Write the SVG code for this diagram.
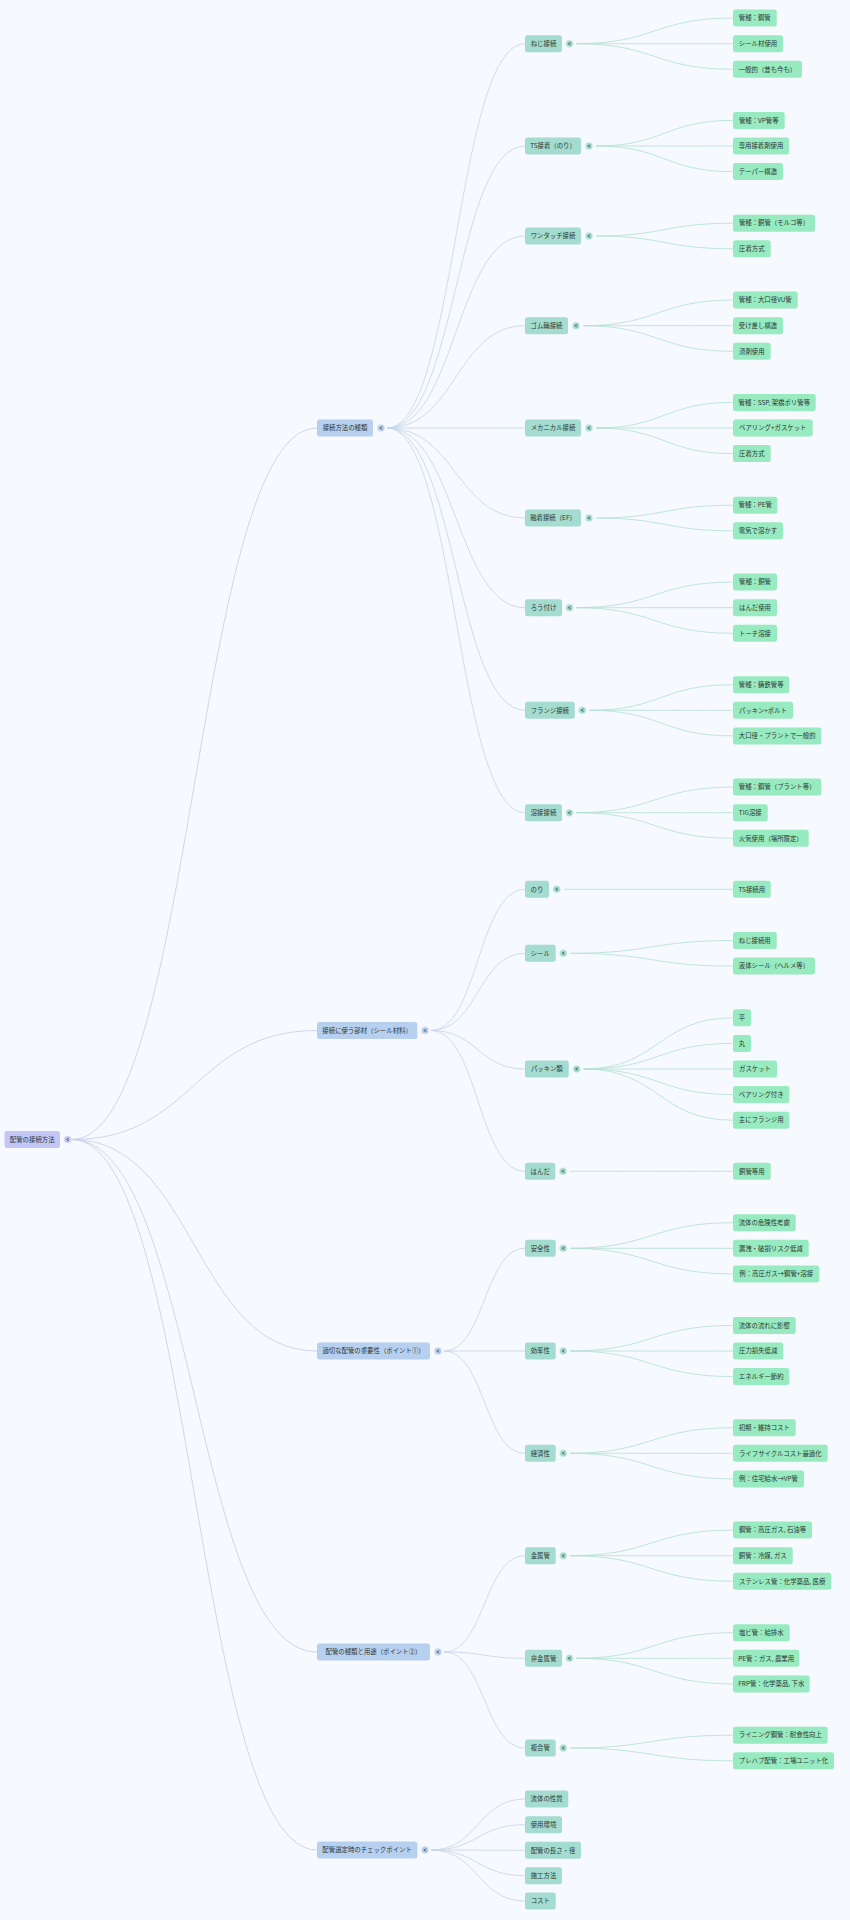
<svg xmlns="http://www.w3.org/2000/svg" xmlns:xlink="http://www.w3.org/1999/xlink" width="850" height="1920" viewBox="0 0 850 1920">
<style>
text{font-family:"Noto Sans CJK JP","Noto Sans",sans-serif;font-size:6.4px;fill:#2b3633;text-anchor:middle}
.n0{fill:#c3c6f6}.n1{fill:#b8d0ef}.n2{fill:#a4dccf}.n3{fill:#98eac0}
rect{rx:2.5;ry:2.5}
.c0{fill:#c3c6f6;stroke:#eef0fb;stroke-width:0.6}
.c1{fill:#b8d0ef;stroke:#eef3fb;stroke-width:0.6}
.c2{fill:#a4dccf;stroke:#eef8f5;stroke-width:0.6}
path{fill:none;stroke-width:0.8}
.l0 path{stroke:#c8cce8}.l1 path{stroke:#c5d4e8}.l2 path{stroke:#b3e0d2}
</style>
<defs>
<path id="chev" d="M1.3,-1.3 L-1.2,0 L1.3,1.3" style="stroke:#3a4644;stroke-width:0.7;fill:none"/>
</defs>
<rect x="0" y="0" width="850" height="1920" style="fill:#f6f9fd;rx:0;ry:0"/>
<g id="connectors">
<g class="l0">
<path d="M72,1139.5 C194.5,1139.5 194.5,428 317,428"/>
<path d="M72,1139.5 C194.5,1139.5 194.5,1030.5 317,1030.5"/>
<path d="M72,1139.5 C194.5,1139.5 194.5,1351 317,1351"/>
<path d="M72,1139.5 C194.5,1139.5 194.5,1652 317,1652"/>
<path d="M72,1139.5 C194.5,1139.5 194.5,1850 317,1850"/>
</g>
<g class="l1">
<path d="M387,428 C456,428 456,43.7 525,43.7"/>
<path d="M387,428 C456,428 456,146 525,146"/>
<path d="M387,428 C456,428 456,236 525,236"/>
<path d="M387,428 C456,428 456,325.7 525,325.7"/>
<path d="M387,428 C456,428 456,428 525,428"/>
<path d="M387,428 C456,428 456,518 525,518"/>
<path d="M387,428 C456,428 456,607.7 525,607.7"/>
<path d="M387,428 C456,428 456,710.3 525,710.3"/>
<path d="M387,428 C456,428 456,812.7 525,812.7"/>
<path d="M431,1030.5 C478,1030.5 478,889.3 525,889.3"/>
<path d="M431,1030.5 C478,1030.5 478,953.3 525,953.3"/>
<path d="M431,1030.5 C478,1030.5 478,1069 525,1069"/>
<path d="M431,1030.5 C478,1030.5 478,1171.3 525,1171.3"/>
<path d="M444,1351 C484.5,1351 484.5,1248.3 525,1248.3"/>
<path d="M444,1351 C484.5,1351 484.5,1351 525,1351"/>
<path d="M444,1351 C484.5,1351 484.5,1453.3 525,1453.3"/>
<path d="M444,1652 C484.5,1652 484.5,1555.7 525,1555.7"/>
<path d="M444,1652 C484.5,1652 484.5,1658.3 525,1658.3"/>
<path d="M444,1652 C484.5,1652 484.5,1748 525,1748"/>
<path d="M431,1850 C478,1850 478,1799 525,1799"/>
<path d="M431,1850 C478,1850 478,1824.7 525,1824.7"/>
<path d="M431,1850 C478,1850 478,1850.3 525,1850.3"/>
<path d="M431,1850 C478,1850 478,1875.7 525,1875.7"/>
<path d="M431,1850 C478,1850 478,1901 525,1901"/>
</g>
<g class="l2">
<path d="M576.5,43.7 C654.8,43.7 654.8,18 733,18"/>
<path d="M576.5,43.7 C654.8,43.7 654.8,43.7 733,43.7"/>
<path d="M576.5,43.7 C654.8,43.7 654.8,69.3 733,69.3"/>
<path d="M596,146 C664.5,146 664.5,120.4 733,120.4"/>
<path d="M596,146 C664.5,146 664.5,146 733,146"/>
<path d="M596,146 C664.5,146 664.5,171.6 733,171.6"/>
<path d="M596,236 C664.5,236 664.5,223.2 733,223.2"/>
<path d="M596,236 C664.5,236 664.5,248.8 733,248.8"/>
<path d="M583,325.7 C658,325.7 658,300.1 733,300.1"/>
<path d="M583,325.7 C658,325.7 658,325.7 733,325.7"/>
<path d="M583,325.7 C658,325.7 658,351.3 733,351.3"/>
<path d="M596,428 C664.5,428 664.5,402.4 733,402.4"/>
<path d="M596,428 C664.5,428 664.5,428 733,428"/>
<path d="M596,428 C664.5,428 664.5,453.6 733,453.6"/>
<path d="M596,518 C664.5,518 664.5,505.2 733,505.2"/>
<path d="M596,518 C664.5,518 664.5,530.8 733,530.8"/>
<path d="M576.5,607.7 C654.8,607.7 654.8,582.1 733,582.1"/>
<path d="M576.5,607.7 C654.8,607.7 654.8,607.7 733,607.7"/>
<path d="M576.5,607.7 C654.8,607.7 654.8,633.3 733,633.3"/>
<path d="M589.3,710.3 C661.2,710.3 661.2,684.7 733,684.7"/>
<path d="M589.3,710.3 C661.2,710.3 661.2,710.3 733,710.3"/>
<path d="M589.3,710.3 C661.2,710.3 661.2,735.9 733,735.9"/>
<path d="M576.5,812.7 C654.8,812.7 654.8,787.1 733,787.1"/>
<path d="M576.5,812.7 C654.8,812.7 654.8,812.7 733,812.7"/>
<path d="M576.5,812.7 C654.8,812.7 654.8,838.3 733,838.3"/>
<path d="M563.7,889.3 C648.4,889.3 648.4,889.3 733,889.3"/>
<path d="M570.3,953.3 C651.7,953.3 651.7,940.5 733,940.5"/>
<path d="M570.3,953.3 C651.7,953.3 651.7,966.1 733,966.1"/>
<path d="M583.7,1069 C658.4,1069 658.4,1017.8 733,1017.8"/>
<path d="M583.7,1069 C658.4,1069 658.4,1043.4 733,1043.4"/>
<path d="M583.7,1069 C658.4,1069 658.4,1069 733,1069"/>
<path d="M583.7,1069 C658.4,1069 658.4,1094.6 733,1094.6"/>
<path d="M583.7,1069 C658.4,1069 658.4,1120.2 733,1120.2"/>
<path d="M570,1171.3 C651.5,1171.3 651.5,1171.3 733,1171.3"/>
<path d="M570.3,1248.3 C651.7,1248.3 651.7,1222.7 733,1222.7"/>
<path d="M570.3,1248.3 C651.7,1248.3 651.7,1248.3 733,1248.3"/>
<path d="M570.3,1248.3 C651.7,1248.3 651.7,1273.9 733,1273.9"/>
<path d="M570.3,1351 C651.7,1351 651.7,1325.4 733,1325.4"/>
<path d="M570.3,1351 C651.7,1351 651.7,1351 733,1351"/>
<path d="M570.3,1351 C651.7,1351 651.7,1376.6 733,1376.6"/>
<path d="M570.3,1453.3 C651.7,1453.3 651.7,1427.7 733,1427.7"/>
<path d="M570.3,1453.3 C651.7,1453.3 651.7,1453.3 733,1453.3"/>
<path d="M570.3,1453.3 C651.7,1453.3 651.7,1478.9 733,1478.9"/>
<path d="M570.3,1555.7 C651.7,1555.7 651.7,1530.1 733,1530.1"/>
<path d="M570.3,1555.7 C651.7,1555.7 651.7,1555.7 733,1555.7"/>
<path d="M570.3,1555.7 C651.7,1555.7 651.7,1581.3 733,1581.3"/>
<path d="M576.5,1658.3 C654.8,1658.3 654.8,1632.7 733,1632.7"/>
<path d="M576.5,1658.3 C654.8,1658.3 654.8,1658.3 733,1658.3"/>
<path d="M576.5,1658.3 C654.8,1658.3 654.8,1683.9 733,1683.9"/>
<path d="M570.3,1748 C651.7,1748 651.7,1735.2 733,1735.2"/>
<path d="M570.3,1748 C651.7,1748 651.7,1760.8 733,1760.8"/>
</g>
</g>

<g id="root"><rect class="n0" x="4.5" y="1131" width="55.5" height="17"/><text x="32.2" y="1141.7">配管の接続方法</text><circle class="c0" cx="67.7" cy="1139.5" r="3.8"/><use xlink:href="#chev" x="67.7" y="1139.5"/></g>

<g id="n-a"><rect class="n1" x="317" y="419.5" width="56" height="17"/><text x="345" y="430.2">接続方法の種類</text><circle class="c1" cx="381" cy="428" r="3.8"/><use xlink:href="#chev" x="381" y="428"/></g>
<g id="n-b"><rect class="n1" x="317" y="1022" width="100.3" height="17"/><text x="367.1" y="1032.7">接続に使う部材（シール材料）</text><circle class="c1" cx="425" cy="1030.5" r="3.8"/><use xlink:href="#chev" x="425" y="1030.5"/></g>
<g id="n-c"><rect class="n1" x="317" y="1342.5" width="113" height="17"/><text x="373.5" y="1353.2">適切な配管の重要性（ポイント①）</text><circle class="c1" cx="438" cy="1351" r="3.8"/><use xlink:href="#chev" x="438" y="1351"/></g>
<g id="n-d"><rect class="n1" x="317" y="1643.5" width="113" height="17"/><text x="373.5" y="1654.2">配管の種類と用途（ポイント②）</text><circle class="c1" cx="438" cy="1652" r="3.8"/><use xlink:href="#chev" x="438" y="1652"/></g>
<g id="n-e"><rect class="n1" x="317" y="1841.5" width="100.3" height="17"/><text x="367.1" y="1852.2">配管選定時のチェックポイント</text><circle class="c1" cx="425" cy="1850" r="3.8"/><use xlink:href="#chev" x="425" y="1850"/></g>

<g id="n-a1"><rect class="n2" x="525" y="35.2" width="37" height="17"/><text x="543.5" y="45.9">ねじ接続</text><circle class="c2" cx="569.5" cy="43.7" r="3.8"/><use xlink:href="#chev" x="569.5" y="43.7"/></g>
<g id="n-a2"><rect class="n2" x="525" y="137.5" width="56" height="17"/><text x="553" y="148.2">TS接着（のり）</text><circle class="c2" cx="589" cy="146" r="3.8"/><use xlink:href="#chev" x="589" y="146"/></g>
<g id="n-a3"><rect class="n2" x="525" y="227.5" width="56" height="17"/><text x="553" y="238.2">ワンタッチ接続</text><circle class="c2" cx="589" cy="236" r="3.8"/><use xlink:href="#chev" x="589" y="236"/></g>
<g id="n-a4"><rect class="n2" x="525" y="317.2" width="43" height="17"/><text x="546.5" y="327.9">ゴム輪接続</text><circle class="c2" cx="576" cy="325.7" r="3.8"/><use xlink:href="#chev" x="576" y="325.7"/></g>
<g id="n-a5"><rect class="n2" x="525" y="419.5" width="56" height="17"/><text x="553" y="430.2">メカニカル接続</text><circle class="c2" cx="589" cy="428" r="3.8"/><use xlink:href="#chev" x="589" y="428"/></g>
<g id="n-a6"><rect class="n2" x="525" y="509.5" width="56" height="17"/><text x="553" y="520.2">融着接続（EF）</text><circle class="c2" cx="589" cy="518" r="3.8"/><use xlink:href="#chev" x="589" y="518"/></g>
<g id="n-a7"><rect class="n2" x="525" y="599.2" width="37" height="17"/><text x="543.5" y="609.9">ろう付け</text><circle class="c2" cx="569.5" cy="607.7" r="3.8"/><use xlink:href="#chev" x="569.5" y="607.7"/></g>
<g id="n-a8"><rect class="n2" x="525" y="701.8" width="49.7" height="17"/><text x="549.8" y="712.5">フランジ接続</text><circle class="c2" cx="582.3" cy="710.3" r="3.8"/><use xlink:href="#chev" x="582.3" y="710.3"/></g>
<g id="n-a9"><rect class="n2" x="525" y="804.2" width="37" height="17"/><text x="543.5" y="814.9">溶接接続</text><circle class="c2" cx="569.5" cy="812.7" r="3.8"/><use xlink:href="#chev" x="569.5" y="812.7"/></g>

<g id="n-b1"><rect class="n2" x="525" y="880.8" width="24" height="17"/><text x="537" y="891.5">のり</text><circle class="c2" cx="556.7" cy="889.3" r="3.8"/><use xlink:href="#chev" x="556.7" y="889.3"/></g>
<g id="n-b2"><rect class="n2" x="525" y="944.8" width="30.7" height="17"/><text x="540.3" y="955.5">シール</text><circle class="c2" cx="563.3" cy="953.3" r="3.8"/><use xlink:href="#chev" x="563.3" y="953.3"/></g>
<g id="n-b3"><rect class="n2" x="525" y="1060.5" width="43.7" height="17"/><text x="546.8" y="1071.2">パッキン類</text><circle class="c2" cx="576.7" cy="1069" r="3.8"/><use xlink:href="#chev" x="576.7" y="1069"/></g>
<g id="n-b4"><rect class="n2" x="525" y="1162.8" width="30.3" height="17"/><text x="540.2" y="1173.5">はんだ</text><circle class="c2" cx="563" cy="1171.3" r="3.8"/><use xlink:href="#chev" x="563" y="1171.3"/></g>

<g id="n-c1"><rect class="n2" x="525" y="1239.8" width="30.7" height="17"/><text x="540.3" y="1250.5">安全性</text><circle class="c2" cx="563.3" cy="1248.3" r="3.8"/><use xlink:href="#chev" x="563.3" y="1248.3"/></g>
<g id="n-c2"><rect class="n2" x="525" y="1342.5" width="30.7" height="17"/><text x="540.3" y="1353.2">効率性</text><circle class="c2" cx="563.3" cy="1351" r="3.8"/><use xlink:href="#chev" x="563.3" y="1351"/></g>
<g id="n-c3"><rect class="n2" x="525" y="1444.8" width="30.7" height="17"/><text x="540.3" y="1455.5">経済性</text><circle class="c2" cx="563.3" cy="1453.3" r="3.8"/><use xlink:href="#chev" x="563.3" y="1453.3"/></g>

<g id="n-d1"><rect class="n2" x="525" y="1547.2" width="30.7" height="17"/><text x="540.3" y="1557.9">金属管</text><circle class="c2" cx="563.3" cy="1555.7" r="3.8"/><use xlink:href="#chev" x="563.3" y="1555.7"/></g>
<g id="n-d2"><rect class="n2" x="525" y="1649.8" width="37" height="17"/><text x="543.5" y="1660.5">非金属管</text><circle class="c2" cx="569.5" cy="1658.3" r="3.8"/><use xlink:href="#chev" x="569.5" y="1658.3"/></g>
<g id="n-d3"><rect class="n2" x="525" y="1739.5" width="30.7" height="17"/><text x="540.3" y="1750.2">複合管</text><circle class="c2" cx="563.3" cy="1748" r="3.8"/><use xlink:href="#chev" x="563.3" y="1748"/></g>

<g id="n-e1"><rect class="n2" x="525" y="1790.5" width="43.3" height="17"/><text x="546.6" y="1801.2">流体の性質</text></g>
<g id="n-e2"><rect class="n2" x="525" y="1816.2" width="37" height="17"/><text x="543.5" y="1826.9">使用環境</text></g>
<g id="n-e3"><rect class="n2" x="525" y="1841.8" width="56" height="17"/><text x="553" y="1852.5">配管の長さ・径</text></g>
<g id="n-e4"><rect class="n2" x="525" y="1867.2" width="37" height="17"/><text x="543.5" y="1877.9">施工方法</text></g>
<g id="n-e5"><rect class="n2" x="525" y="1892.5" width="30.7" height="17"/><text x="540.3" y="1903.2">コスト</text></g>

<g id="leaf-a1-1"><rect class="n3" x="733" y="9.5" width="43.7" height="17"/><text x="754.8" y="20.2">管種：鋼管</text></g>
<g id="leaf-a1-2"><rect class="n3" x="733" y="35.2" width="50" height="17"/><text x="758" y="45.9">シール材使用</text></g>
<g id="leaf-a1-3"><rect class="n3" x="733" y="60.8" width="69" height="17"/><text x="767.5" y="71.5">一般的（昔も今も）</text></g>
<g id="leaf-a2-1"><rect class="n3" x="733" y="111.9" width="51.7" height="17"/><text x="758.8" y="122.6">管種：VP管等</text></g>
<g id="leaf-a2-2"><rect class="n3" x="733" y="137.5" width="56" height="17"/><text x="761" y="148.2">専用接着剤使用</text></g>
<g id="leaf-a2-3"><rect class="n3" x="733" y="163.1" width="50" height="17"/><text x="758" y="173.8">テーパー構造</text></g>
<g id="leaf-a3-1"><rect class="n3" x="733" y="214.7" width="82" height="17"/><text x="774" y="225.4">管種：銅管（モルコ等）</text></g>
<g id="leaf-a3-2"><rect class="n3" x="733" y="240.3" width="37.7" height="17"/><text x="751.8" y="251">圧着方式</text></g>
<g id="leaf-a4-1"><rect class="n3" x="733" y="291.6" width="64.7" height="17"/><text x="765.3" y="302.3">管種：大口径VU管</text></g>
<g id="leaf-a4-2"><rect class="n3" x="733" y="317.2" width="50" height="17"/><text x="758" y="327.9">受け差し構造</text></g>
<g id="leaf-a4-3"><rect class="n3" x="733" y="342.8" width="37.7" height="17"/><text x="751.8" y="353.5">滑剤使用</text></g>
<g id="leaf-a5-1"><rect class="n3" x="733" y="393.9" width="82.7" height="17"/><text x="774.3" y="404.6">管種：SSP, 架橋ポリ管等</text></g>
<g id="leaf-a5-2"><rect class="n3" x="733" y="419.5" width="79.7" height="17"/><text x="772.8" y="430.2">ベアリング+ガスケット</text></g>
<g id="leaf-a5-3"><rect class="n3" x="733" y="445.1" width="37.7" height="17"/><text x="751.8" y="455.8">圧着方式</text></g>
<g id="leaf-a6-1"><rect class="n3" x="733" y="496.7" width="44.3" height="17"/><text x="755.2" y="507.4">管種：PE管</text></g>
<g id="leaf-a6-2"><rect class="n3" x="733" y="522.3" width="50" height="17"/><text x="758" y="533">電気で溶かす</text></g>
<g id="leaf-a7-1"><rect class="n3" x="733" y="573.6" width="44" height="17"/><text x="755" y="584.3">管種：銅管</text></g>
<g id="leaf-a7-2"><rect class="n3" x="733" y="599.2" width="44" height="17"/><text x="755" y="609.9">はんだ使用</text></g>
<g id="leaf-a7-3"><rect class="n3" x="733" y="624.8" width="44" height="17"/><text x="755" y="635.5">トーチ溶接</text></g>
<g id="leaf-a8-1"><rect class="n3" x="733" y="676.2" width="56.3" height="17"/><text x="761.2" y="686.9">管種：鋳鉄管等</text></g>
<g id="leaf-a8-2"><rect class="n3" x="733" y="701.8" width="60" height="17"/><text x="763" y="712.5">パッキン+ボルト</text></g>
<g id="leaf-a8-3"><rect class="n3" x="733" y="727.4" width="88.3" height="17"/><text x="777.2" y="738.1">大口径・プラントで一般的</text></g>
<g id="leaf-a9-1"><rect class="n3" x="733" y="778.6" width="88.3" height="17"/><text x="777.2" y="789.3">管種：鋼管（プラント等）</text></g>
<g id="leaf-a9-2"><rect class="n3" x="733" y="804.2" width="34.7" height="17"/><text x="750.3" y="814.9">TIG溶接</text></g>
<g id="leaf-a9-3"><rect class="n3" x="733" y="829.8" width="75.7" height="17"/><text x="770.8" y="840.5">火気使用（場所限定）</text></g>

<g id="leaf-b1-1"><rect class="n3" x="733" y="880.8" width="37.7" height="17"/><text x="751.8" y="891.5">TS接続用</text></g>
<g id="leaf-b2-1"><rect class="n3" x="733" y="932" width="43.7" height="17"/><text x="754.8" y="942.7">ねじ接続用</text></g>
<g id="leaf-b2-2"><rect class="n3" x="733" y="957.6" width="82" height="17"/><text x="774" y="968.3">液体シール（ヘルメ等）</text></g>
<g id="leaf-b3-1"><rect class="n3" x="733" y="1009.3" width="18" height="17"/><text x="742" y="1020">平</text></g>
<g id="leaf-b3-2"><rect class="n3" x="733" y="1034.9" width="18" height="17"/><text x="742" y="1045.6">丸</text></g>
<g id="leaf-b3-3"><rect class="n3" x="733" y="1060.5" width="44" height="17"/><text x="755" y="1071.2">ガスケット</text></g>
<g id="leaf-b3-4"><rect class="n3" x="733" y="1086.1" width="56.3" height="17"/><text x="761.2" y="1096.8">ベアリング付き</text></g>
<g id="leaf-b3-5"><rect class="n3" x="733" y="1111.7" width="56.3" height="17"/><text x="761.2" y="1122.4">主にフランジ用</text></g>
<g id="leaf-b4-1"><rect class="n3" x="733" y="1162.8" width="37.7" height="17"/><text x="751.8" y="1173.5">銅管等用</text></g>

<g id="leaf-c1-1"><rect class="n3" x="733" y="1214.2" width="62.7" height="17"/><text x="764.3" y="1224.9">流体の危険性考慮</text></g>
<g id="leaf-c1-2"><rect class="n3" x="733" y="1239.8" width="75.7" height="17"/><text x="770.8" y="1250.5">漏洩・破損リスク低減</text></g>
<g id="leaf-c1-3"><rect class="n3" x="733" y="1265.4" width="86.3" height="17"/><text x="776.2" y="1276.1">例：高圧ガス→鋼管+溶接</text></g>
<g id="leaf-c2-1"><rect class="n3" x="733" y="1316.9" width="62.7" height="17"/><text x="764.3" y="1327.6">流体の流れに影響</text></g>
<g id="leaf-c2-2"><rect class="n3" x="733" y="1342.5" width="50.3" height="17"/><text x="758.2" y="1353.2">圧力損失低減</text></g>
<g id="leaf-c2-3"><rect class="n3" x="733" y="1368.1" width="56.3" height="17"/><text x="761.2" y="1378.8">エネルギー節約</text></g>
<g id="leaf-c3-1"><rect class="n3" x="733" y="1419.2" width="62.7" height="17"/><text x="764.3" y="1429.9">初期・維持コスト</text></g>
<g id="leaf-c3-2"><rect class="n3" x="733" y="1444.8" width="94.7" height="17"/><text x="780.3" y="1455.5">ライフサイクルコスト最適化</text></g>
<g id="leaf-c3-3"><rect class="n3" x="733" y="1470.4" width="71" height="17"/><text x="768.5" y="1481.1">例：住宅給水→VP管</text></g>

<g id="leaf-d1-1"><rect class="n3" x="733" y="1521.6" width="79" height="17"/><text x="772.5" y="1532.3">鋼管：高圧ガス, 石油等</text></g>
<g id="leaf-d1-2"><rect class="n3" x="733" y="1547.2" width="59.7" height="17"/><text x="762.8" y="1557.9">銅管：冷媒, ガス</text></g>
<g id="leaf-d1-3"><rect class="n3" x="733" y="1572.8" width="98.3" height="17"/><text x="782.2" y="1583.5">ステンレス管：化学薬品, 医療</text></g>
<g id="leaf-d2-1"><rect class="n3" x="733" y="1624.2" width="56.7" height="17"/><text x="761.3" y="1634.9">塩ビ管：給排水</text></g>
<g id="leaf-d2-2"><rect class="n3" x="733" y="1649.8" width="66.3" height="17"/><text x="766.2" y="1660.5">PE管：ガス, 農業用</text></g>
<g id="leaf-d2-3"><rect class="n3" x="733" y="1675.4" width="76.7" height="17"/><text x="771.3" y="1686.1">FRP管：化学薬品, 下水</text></g>
<g id="leaf-d3-1"><rect class="n3" x="733" y="1726.7" width="94.7" height="17"/><text x="780.3" y="1737.4">ライニング鋼管：耐食性向上</text></g>
<g id="leaf-d3-2"><rect class="n3" x="733" y="1752.3" width="101" height="17"/><text x="783.5" y="1763">プレハブ配管：工場ユニット化</text></g>
</svg>
